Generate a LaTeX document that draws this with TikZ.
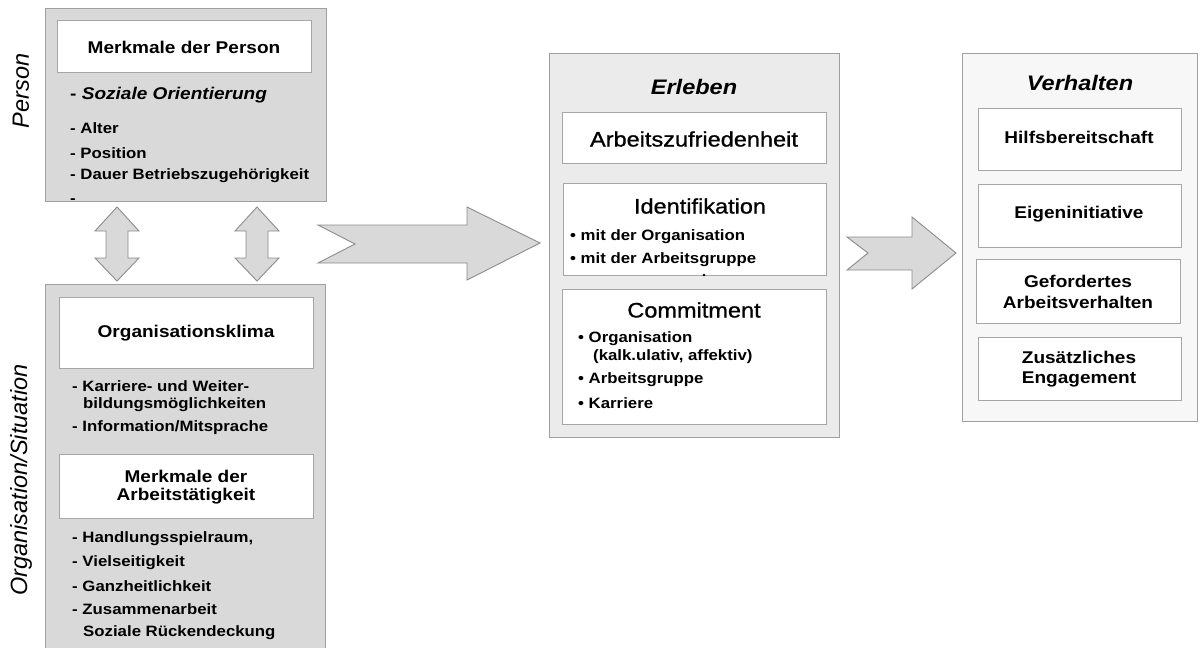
\documentclass[tikz,border=0pt]{standalone}
\usepackage{fontspec}
\setmainfont[FakeStretch=1.12]{Liberation Sans}
\newfontfamily\uprightsans{Liberation Sans}
\newfontfamily\mediumsans[FakeStretch=1.12,FakeBold=0.9]{Liberation Sans}
\definecolor{leftfill}{HTML}{D9D9D9}
\definecolor{midfill}{HTML}{EBEBEB}
\definecolor{rightfill}{HTML}{F7F7F7}
\definecolor{panelline}{HTML}{A0A0A0}
\definecolor{boxline}{HTML}{A6A6A6}
\definecolor{arrowline}{HTML}{8C8C8C}
\begin{document}
\begin{tikzpicture}[x=1pt,y=-1pt,
  panel/.style={draw=panelline, line width=0.9pt},
  whitebox/.style={draw=boxline, fill=white, line width=0.9pt},
  lbl/.style={inner sep=0pt, align=center, font=\fontsize{17}{20}\selectfont\bfseries},
  item/.style={inner sep=0pt, anchor=west, font=\fontsize{15}{18}\selectfont\bfseries},
  heading/.style={inner sep=0pt, font=\fontsize{21}{25}\selectfont\bfseries\itshape},
  subhead/.style={inner sep=0pt, font=\mediumsans\fontsize{21}{25}\selectfont},
  side/.style={inner sep=0pt, rotate=90, font=\uprightsans\fontsize{23.5}{28}\selectfont\itshape},
  blockarrow/.style={fill=leftfill, draw=arrowline, line width=0.9pt, line join=miter}]
\useasboundingbox (0,0) rectangle (1201,648);

% ---------- Person ----------
\draw[panel, fill=leftfill] (45,8) rectangle (326,201);
\draw[whitebox] (57,20) rectangle (311,72);
\node[lbl] (mperson) at (184,47) {Merkmale der Person};
\node[item, font=\fontsize{17}{20}\selectfont\bfseries] (sozor) at (70,95) {- \textit{Soziale Orientierung}};
\node[item] (alter) at (70,128) {- Alter};
\node[item] (pos) at (70,153) {- Position};
\node[item] (dauer) at (70,176) {- Dauer Betriebszugehörigkeit};
\node[item] (dash) at (70,201) {-};
\node[side] (person) at (21,91) {Person};

% ---------- Organisation / Situation ----------
\fill[leftfill] (45,284) rectangle (325,648);
\draw[panelline, line width=0.9pt] (45,648) |- (325,284) -- (325,648);
\draw[whitebox] (59,297) rectangle (313,368);
\node[lbl] (oklima) at (186,333) {Organisationsklima};
\node[item] (karr) at (72,386) {- Karriere- und Weiter-};
\node[item] (bild) at (83,405) {bildungsmöglichkeiten};
\node[item] (info) at (72,428) {- Information/Mitsprache};
\draw[whitebox] (59,454) rectangle (313,518);
\node[lbl] (mtask1) at (186,476) {Merkmale der};
\node[lbl] (mtask2) at (186,496) {Arbeitstätigkeit};
\node[item] (hand) at (72,539) {- Handlungsspielraum,};
\node[item] (viel) at (72,563) {- Vielseitigkeit};
\node[item] (ganz) at (72,586) {- Ganzheitlichkeit};
\node[item] (zus) at (72,609) {- Zusammenarbeit};
\node[item] (sozr) at (83,633) {Soziale Rückendeckung};
\node[side] (orgsit) at (21,480) {Organisation/Situation};

% ---------- double arrows between person and organisation ----------
\foreach \cx in {117,257}{
  \draw[blockarrow] (\cx,207) -- (\cx+22,231) -- (\cx+11,231) -- (\cx+11,258)
    -- (\cx+22,258) -- (\cx,281) -- (\cx-22,258) -- (\cx-11,258)
    -- (\cx-11,231) -- (\cx-22,231) -- cycle;
}

% ---------- arrow to Erleben ----------
\draw[blockarrow] (318,225) -- (467,225) -- (467,207) -- (540,243)
  -- (467,280) -- (467,263) -- (318,263) -- (355,244) -- cycle;

% ---------- Erleben ----------
\draw[panel, fill=midfill] (549,53) rectangle (839,437);
\node[heading] (erleben) at (694,87) {Erleben};
\draw[whitebox] (562,112) rectangle (826,163);
\node[subhead] (azuf) at (694,139) {Arbeitszufriedenheit};
\draw[whitebox] (563,183) rectangle (826,275);
\node[subhead] (ident) at (700,206) {Identifikation};
\node[item] (id1) at (570,237) {• mit der Organisation};
\node[item] (id2) at (570,260) {• mit der Arbeitsgruppe};
\fill (704,275) circle (1.3);
\draw[whitebox] (562,289) rectangle (826,424);
\node[subhead] (commit) at (694,310) {Commitment};
\node[item] (c1) at (578,339) {• Organisation};
\node[item] (c1b) at (593,357) {(kalk.ulativ, affektiv)};
\node[item] (c2) at (578,380) {• Arbeitsgruppe};
\node[item] (c3) at (578,403) {• Karriere};

% ---------- arrow to Verhalten ----------
\draw[blockarrow] (847,237) -- (912,237) -- (912,217) -- (956,253)
  -- (912,289) -- (912,270) -- (847,270) -- (868,253) -- cycle;

% ---------- Verhalten ----------
\draw[panel, fill=rightfill] (962,53) rectangle (1197,421);
\node[heading] (verh) at (1080,83) {Verhalten};
\draw[whitebox] (978,108) rectangle (1181,170);
\node[lbl] (hilf) at (1079,137) {Hilfsbereitschaft};
\draw[whitebox] (978,184) rectangle (1181,247);
\node[lbl] (eigen) at (1079,214) {Eigeninitiative};
\draw[whitebox] (976,259) rectangle (1180,323);
\node[lbl] (gef1) at (1078,281) {Gefordertes};
\node[lbl] (gef2) at (1078,302) {Arbeitsverhalten};
\draw[whitebox] (978,337) rectangle (1181,400);
\node[lbl] (zus1) at (1079,357) {Zusätzliches};
\node[lbl] (zus2) at (1079,379) {Engagement};
\end{tikzpicture}
\end{document}
